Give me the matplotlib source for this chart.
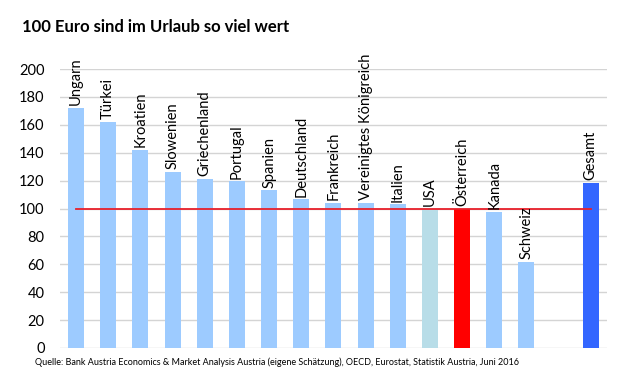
import numpy as np
import matplotlib
matplotlib.use("Agg")
from matplotlib import pyplot as plt

plt.rcParams['font.family'] = ['Lato', 'DejaVu Sans']

# data
countries = ['Ungarn', 'Türkei', 'Kroatien', 'Slowenien', 'Griechenland', 'Portugal',
             'Spanien', 'Deutschland', 'Frankreich', 'Vereinigtes Königreich', 'Italien',
             'USA', 'Österreich', 'Kanada', 'Schweiz', '', 'Gesamt']
values = [172, 162, 142, 126, 121, 119.5, 113, 106.5, 104, 104.3, 103, 100, 100, 97.5, 62, np.nan, 118.5]
reference_value = 100
yticks = [0, 20, 40, 60, 80, 100, 120, 140, 160, 180, 200]

colors = ['#9DCBFF'] * len(countries)
colors[countries.index('USA')] = '#B8DDE8'
colors[countries.index('Österreich')] = '#FF0000'
colors[countries.index('Gesamt')] = '#3366FF'

fig = plt.figure(figsize=(6.23, 3.89), dpi=100)
ax = fig.add_axes([0.0963, 0.1054, 0.8777, 0.7172])

x = np.arange(len(countries))
ax.bar(x, values, width=0.5, color=colors, zorder=2)
ax.plot([x[0], x[-1]], [reference_value, reference_value], color='#E8202A', lw=1.3, zorder=3)

for xi, v, name in zip(x, values, countries):
    if not name:
        continue
    ax.annotate(name, (xi, v), xytext=(0, 2), textcoords='offset points',
                rotation=90, ha='center', va='bottom', fontsize=10.5,
                color='black', annotation_clip=False)

ax.set_xlim(-0.5, len(countries) - 0.5)
ax.set_ylim(0, 200)
ax.set_yticks(yticks)
ax.set_xticks([])
ax.tick_params(axis='y', length=0, pad=11, labelsize=10.5)
ax.grid(axis='y', color='#D4D4D4', lw=1, zorder=0)
for s in ax.spines.values():
    s.set_visible(False)

fig.text(0.035, 0.93, '100 Euro sind im Urlaub so viel wert', fontsize=12,
         fontweight='bold', ha='left', va='center')
fig.text(0.056, 0.068, 'Quelle: Bank Austria Economics & Market Analysis Austria (eigene Schätzung), '
         'OECD, Eurostat, Statistik Austria, Juni 2016', fontsize=6.5, ha='left', va='center')

fig.savefig('out.png', dpi=100)
